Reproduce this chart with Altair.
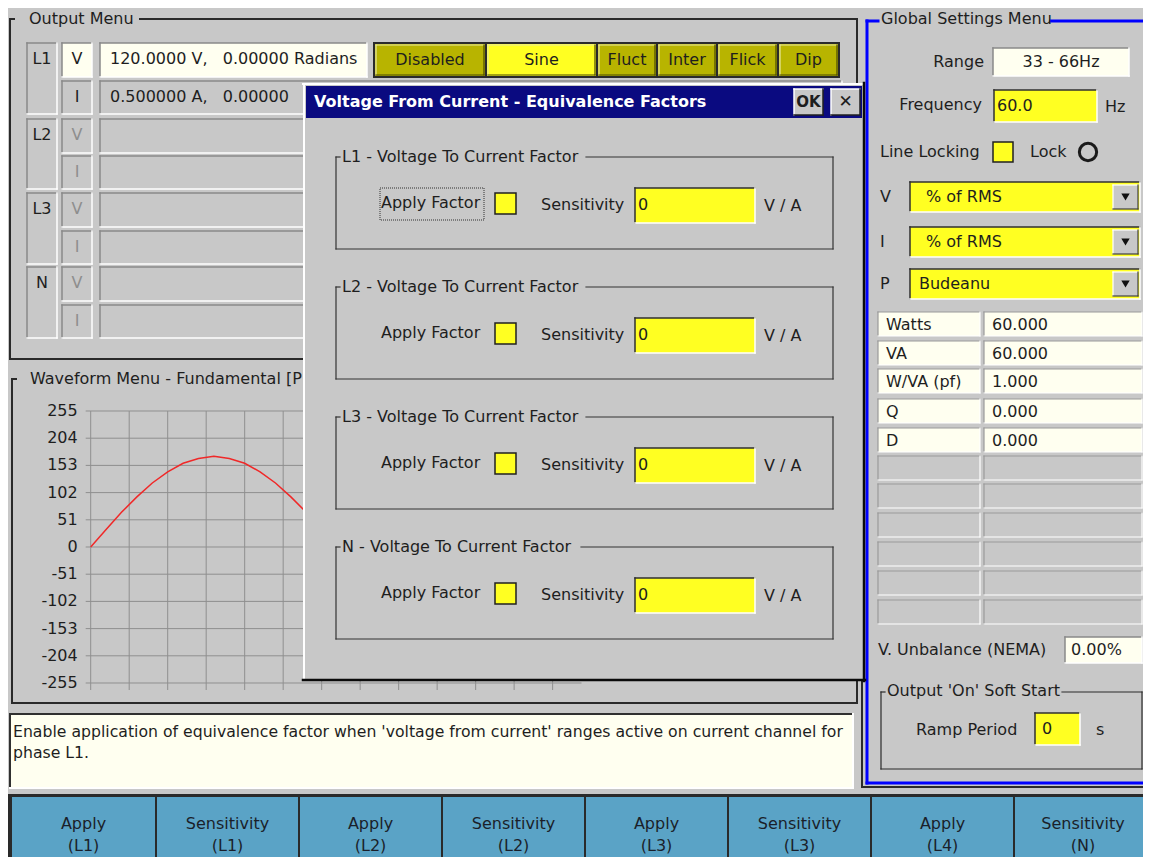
import altair as alt
import pandas as pd

# ---------------- data ----------------
# Fundamental waveform (phase L1 voltage): sample index / value
wave_sample = [0, 8, 16, 24, 32, 40, 48, 56, 64, 72, 80, 88, 96, 104, 112, 120, 128,
               136, 144, 152, 160, 168, 176, 184, 192, 200, 208, 216, 224, 232, 240, 248, 255]
wave_value = [0, 33, 65, 94, 120, 141, 157, 166, 170, 166, 157, 141, 120, 94, 65, 33, 0,
              -33, -65, -94, -120, -141, -157, -166, -170, -166, -157, -141, -120, -94, -65, -33, -4]
y_tick_values = [255, 204, 153, 102, 51, 0, -51, -102, -153, -204, -255]
y_tick_labels = ["255", "204", "153", "102", "51", "0", "-51", "-102", "-153", "-204", "-255"]
x_grid_samples = [0, 20, 40, 60, 80, 100, 120, 140, 160, 180, 200, 220, 240]

phases = ["L1", "L2", "L3", "N"]
NB = "\u00a0"
l1_v_text = f"120.0000 V,{NB}{NB}{NB}0.00000 Radians"
l1_i_text = f"0.500000 A,{NB}{NB}{NB}0.00000 Radians"
mode_buttons = ["Disabled", "Sine", "Fluct", "Inter", "Flick", "Dip"]
active_mode = "Sine"

range_text = "33 - 66Hz"
freq_text = "60.0"
dropdown_labels = ["V", "I", "P"]
dropdown_values = ["% of RMS", "% of RMS", "Budeanu"]
power_labels = ["Watts", "VA", "W/VA (pf)", "Q", "D"]
power_values = ["60.000", "60.000", "1.000", "0.000", "0.000"]
unbalance_text = "0.00%"
ramp_text = "0"

dialog_title = "Voltage From Current - Equivalence Factors"
sensitivity_values = ["0", "0", "0", "0"]

help_lines = ["Enable application of equivalence factor when 'voltage from current' ranges active on current channel for",
              "phase L1."]
softkey_top = ["Apply", "Sensitivity", "Apply", "Sensitivity", "Apply", "Sensitivity", "Apply", "Sensitivity"]
softkey_bottom = ["(L1)", "(L1)", "(L2)", "(L2)", "(L3)", "(L3)", "(L4)", "(N)"]

# ---------------- styles ----------------
FONT = "DejaVu Sans"
INK = "#1e1e1e"
GREY_TXT = "#8e8e8e"
BG = "#c8c8c8"
CREAM = "#fffff0"
YEL = "#ffff22"
OLIVE = "#b8b400"
NAVY = "#0a0a80"
BLUE = "#0000ff"
KEY = "#5aa3c6"
GRID = "#8f8f8f"
DARK = "#2a2a2a"

W, H = 1135, 849
SX = alt.Scale(domain=[8, 8 + W], nice=False, zero=False)
SY = alt.Scale(domain=[8, 8 + H], nice=False, zero=False, reverse=True)
WX = alt.Scale(domain=[0, 255], range=[82.7, 573.5], nice=False, zero=False)
WY = alt.Scale(domain=[-255, 255], range=[675, 403], nice=False, zero=False)

rects, lines, texts = [], [], []
d_rects, d_lines, d_texts = [], [], []
focus = []


def R(lst, x1, y1, x2, y2, fill, stroke="transparent", sw=0):
    lst.append(dict(x1=x1, y1=y1, x2=x2, y2=y2, fill=fill, stroke=stroke, sw=sw))


def L(lst, x1, y1, x2, y2, color, w=1):
    lst.append(dict(x1=x1, y1=y1, x2=x2, y2=y2, c=color, w=w))


def T(lst, x, y, t, align="left", color=INK, size=16, weight="normal", limit=0):
    lst.append(dict(x=x, y=y, t=t, align=align, c=color, s=size, wt=weight, lim=limit))


def bevel(ll, x1, y1, x2, y2, sunken=True, dark="#808080", light="#ffffff", w=1.5):
    tl, br = (dark, light) if sunken else (light, dark)
    L(ll, x1, y1, x2, y1, tl, w)
    L(ll, x1, y1, x1, y2, tl, w)
    L(ll, x1, y2, x2, y2, br, w)
    L(ll, x2, y1, x2, y2, br, w)


def field(rl, ll, x1, y1, x2, y2, fill, sunken=True, dark="#8a8a8a", w=1.5):
    R(rl, x1, y1, x2, y2, fill)
    bevel(ll, x1, y1, x2, y2, sunken, dark, "#ffffff", w)


def groupbox(ll, x1, y1, x2, y2, gap_end, color, w=1, right=True):
    L(ll, x1, y1, x1 + 4, y1, color, w)
    L(ll, gap_end, y1, x2, y1, color, w)
    L(ll, x1, y1, x1, y2, color, w)
    L(ll, x1, y2, x2, y2, color, w)
    if right:
        L(ll, x2, y1, x2, y2, color, w)


# ---------------- Output Menu ----------------
groupbox(lines, 10, 19, 857, 359, 140, DARK, 2)
T(texts, 29, 19, "Output Menu")
v_tops = [43, 119, 193, 267]
i_tops = [81, 156, 231, 305]
for k, p in enumerate(phases):
    vt, it = v_tops[k], i_tops[k]
    field(rects, lines, 27, vt, 57, it + 33, BG)
    T(texts, 42, vt + 16, p, "center")
    active = k == 0
    field(rects, lines, 62, vt, 92, vt + 34, CREAM if active else BG)
    field(rects, lines, 62, it, 92, it + 33, BG)
    T(texts, 77, vt + 16, "V", "center", INK if active else GREY_TXT)
    T(texts, 77, it + 16, "I", "center", INK if active else GREY_TXT)
    if active:
        field(rects, lines, 100, vt, 367, vt + 34, CREAM)
        field(rects, lines, 100, it, 842, it + 33, BG)
        T(texts, 110, vt + 16, l1_v_text)
        T(texts, 110, it + 16, l1_i_text, limit=190)
    else:
        field(rects, lines, 100, vt, 842, vt + 34, BG)
        field(rects, lines, 100, it, 842, it + 33, BG)

# mode buttons bar
R(rects, 373, 42, 840, 78, DARK)
btn_x = [(375, 485), (487, 596), (598, 656), (658, 716), (718, 777), (779, 838)]
for (bx1, bx2), lab in zip(btn_x, mode_buttons):
    R(rects, bx1, 44, bx2, 76, YEL if lab == active_mode else OLIVE)
    bevel(lines, bx1 + 1, 45, bx2 - 1, 75, False, "#4a4a00", "#e8e8a0", 1.2)
    T(texts, (bx1 + bx2) / 2, 60, lab, "center")

# ---------------- Waveform Menu frame ----------------
groupbox(lines, 12, 379, 857, 703, 470, DARK, 2)
T(texts, 30, 379, "Waveform Menu - Fundamental [Phase L1]", limit=272)

# ---------------- help box ----------------
field(rects, lines, 10, 714, 853, 788, CREAM, True, "#303030", 2)
T(texts, 13, 732, help_lines[0], size=15.7)
T(texts, 13, 753, help_lines[1], size=15.7)

# ---------------- soft keys ----------------
R(rects, 8, 794, 1151, 865, DARK)
key_x = [(12, 155), (157, 298), (300, 441), (443, 584), (586, 727), (729, 870), (872, 1013), (1015, 1151)]
for (kx1, kx2), t1, t2 in zip(key_x, softkey_top, softkey_bottom):
    R(rects, kx1, 797, kx2, 865, KEY)
    T(texts, (kx1 + kx2) / 2, 824, t1, "center", "#1a1f2a")
    T(texts, (kx1 + kx2) / 2, 846, t2, "center", "#1a1f2a")

# ---------------- Global Settings Menu ----------------
L(lines, 862, 681, 862, 787, DARK, 2)
L(lines, 862, 787, 1151, 787, DARK, 2)
L(lines, 867, 21, 878, 21, BLUE, 3)
L(lines, 1051, 21, 1151, 21, BLUE, 3)
L(lines, 867, 21, 867, 783, BLUE, 3)
L(lines, 867, 783, 1151, 783, BLUE, 3)
T(texts, 881, 19, "Global Settings Menu")

T(texts, 984, 62, "Range", "right")
field(rects, lines, 993, 48, 1129, 76, CREAM)
T(texts, 1061, 62, range_text, "center")
T(texts, 982, 105, "Frequency", "right")
field(rects, lines, 994, 90, 1097, 122, YEL, True, "#303030")
T(texts, 997, 106, freq_text)
T(texts, 1105, 107, "Hz")
T(texts, 880, 152, "Line Locking")
R(rects, 993, 142, 1013, 162, YEL, "#202020", 1.5)
T(texts, 1030, 152, "Lock")

dd_tops = [182, 227, 269]
for lab, val, tp in zip(dropdown_labels, dropdown_values, dd_tops):
    T(texts, 880, tp + 15, lab)
    field(rects, lines, 910, tp, 1140, tp + 30, YEL, True, "#303030")
    R(rects, 1113, tp + 3, 1138, tp + 27, BG)
    bevel(lines, 1113, tp + 3, 1138, tp + 27, False, "#404040", "#ffffff", 1.2)
    T(texts, 926 if val != "Budeanu" else 919, tp + 15, val)

row_tops = [312, 341, 369, 399, 428, 456, 484, 513, 542, 571, 600]
for j, rt in enumerate(row_tops):
    fill = CREAM if j < len(power_labels) else BG
    field(rects, lines, 878, rt, 980, rt + 24, fill, True, "#9a9a9a", 1.2)
    field(rects, lines, 984, rt, 1142, rt + 24, fill, True, "#9a9a9a", 1.2)
    if j < len(power_labels):
        T(texts, 886, rt + 13, power_labels[j])
        T(texts, 992, rt + 13, power_values[j])

T(texts, 878, 650, "V. Unbalance (NEMA)")
field(rects, lines, 1065, 637, 1142, 663, CREAM)
T(texts, 1071, 650, unbalance_text)

groupbox(lines, 881, 692, 1142, 769, 1062, DARK, 1.2)
T(texts, 887, 691, "Output 'On' Soft Start")
T(texts, 916, 730, "Ramp Period")
field(rects, lines, 1035, 713, 1080, 745, YEL, True, "#303030")
T(texts, 1042, 729, ramp_text)
T(texts, 1096, 730, "s")

# ---------------- Dialog ----------------
R(d_rects, 303, 83, 865, 681, BG)
L(d_lines, 303, 84, 864, 84, "#ffffff", 2)
L(d_lines, 304, 84, 304, 680, "#ffffff", 2)
L(d_lines, 303, 680, 865, 680, "#0a0a0a", 2.5)
L(d_lines, 864, 83, 864, 681, "#0a0a0a", 2.5)
R(d_rects, 306, 86, 862, 118, NAVY)
T(d_texts, 314, 102, dialog_title, color="#ffffff", size=16, weight="bold")
R(d_rects, 794, 89, 823, 115, BG)
bevel(d_lines, 794, 89, 823, 115, False, "#202020", "#ffffff", 1.5)
T(d_texts, 808.5, 102, "OK", "center", size=15, weight="bold")
R(d_rects, 831, 89, 860, 115, BG)
bevel(d_lines, 831, 89, 860, 115, False, "#202020", "#ffffff", 1.5)
T(d_texts, 845.5, 102, "\u2715", "center", size=17)

gap_ends = [586, 586, 586, 581]
for k, p in enumerate(phases):
    y0 = 157 + 130 * k
    groupbox(d_lines, 336, y0, 833, y0 + 92, gap_ends[k], "#333333", 1.2)
    T(d_texts, 342, y0, f"{p} - Voltage To Current Factor")
    T(d_texts, 381, y0 + 46, "Apply Factor")
    if k == 0:
        focus.append(dict(x1=380, y1=y0 + 31, x2=484, y2=y0 + 63))
    R(d_rects, 495, y0 + 36, 516, y0 + 57, YEL, "#202020", 1.5)
    T(d_texts, 541, y0 + 48, "Sensitivity")
    field(d_rects, d_lines, 635, y0 + 31, 755, y0 + 66, YEL, True, "#303030")
    T(d_texts, 638, y0 + 48, sensitivity_values[k])
    T(d_texts, 764, y0 + 49, "V / A")


# ---------------- layer builders ----------------
def xq(f, sc=SX):
    return alt.X(f, type="quantitative", scale=sc, axis=None)


def yq(f, sc=SY):
    return alt.Y(f, type="quantitative", scale=sc, axis=None)


def rect_layer(rows):
    return alt.Chart(pd.DataFrame(rows)).mark_rect().encode(
        x=xq("x1"), x2="x2:Q", y=yq("y1"), y2="y2:Q",
        fill=alt.Fill("fill:N", scale=None),
        stroke=alt.Stroke("stroke:N", scale=None),
        strokeWidth=alt.StrokeWidth("sw:Q", scale=None))


def rule_layer(rows):
    return alt.Chart(pd.DataFrame(rows)).mark_rule(strokeCap="square").encode(
        x=xq("x1"), x2="x2:Q", y=yq("y1"), y2="y2:Q",
        color=alt.Color("c:N", scale=None),
        strokeWidth=alt.StrokeWidth("w:Q", scale=None))


def text_layers(rows):
    df = pd.DataFrame(rows)
    out = []
    for (al, wt, lim), g in df.groupby(["align", "wt", "lim"]):
        kw = dict(align=al, baseline="middle", font=FONT, fontWeight=wt)
        if lim > 0:
            kw.update(limit=float(lim), ellipsis="\u200b")
        out.append(alt.Chart(g).mark_text(**kw).encode(
            x=xq("x"), y=yq("y"), text="t:N",
            color=alt.Color("c:N", scale=None),
            size=alt.Size("s:Q", scale=None)))
    return out


lock_layer = alt.Chart(pd.DataFrame({"x": [1088], "y": [152]})).mark_point(
    shape="circle", filled=False, size=300, strokeWidth=3, color="#1a1a1a", opacity=1).encode(x=xq("x"), y=yq("y"))
tri_layer = alt.Chart(pd.DataFrame({"x": [1125.5] * 3, "y": [t + 15 for t in dd_tops]})).mark_point(
    shape="triangle-down", filled=True, size=70, color="#101010", opacity=1).encode(x=xq("x"), y=yq("y"))
focus_layer = alt.Chart(pd.DataFrame(focus)).mark_rect(
    filled=False, stroke="#303030", strokeWidth=1, strokeDash=[1, 1]).encode(
    x=xq("x1"), x2="x2:Q", y=yq("y1"), y2="y2:Q")

# waveform (own scales)
vgrid_df = pd.DataFrame({"s": x_grid_samples, "top": 255, "bot": -255})
hgrid_df = pd.DataFrame({"v": y_tick_values, "lab": y_tick_labels, "s0": 0, "s1": 255})
wave_df = pd.DataFrame({"s": wave_sample, "v": wave_value})

vgrid = alt.Chart(vgrid_df).mark_rule(color=GRID, strokeWidth=1, y2Offset=7).encode(
    x=xq("s", WX), y=yq("top", WY), y2="bot:Q")
hgrid = alt.Chart(hgrid_df).mark_rule(color=GRID, strokeWidth=1, xOffset=-5).encode(
    x=xq("s0", WX), x2="s1:Q", y=yq("v", WY))
ylabels = alt.Chart(hgrid_df).mark_text(align="right", baseline="middle", dx=-13, font=FONT,
                                        fontSize=16, color=INK).encode(
    x=xq("s0", WX), y=yq("v", WY), text="lab:N")
wave = alt.Chart(wave_df).mark_line(color="#f02828", strokeWidth=1.5).encode(
    x=xq("s", WX), y=yq("v", WY))

layers = [rect_layer(rects), rule_layer(lines), *text_layers(texts), lock_layer, tri_layer,
          vgrid, hgrid, ylabels, wave,
          rect_layer(d_rects), rule_layer(d_lines), focus_layer, *text_layers(d_texts)]

chart = alt.layer(*layers).resolve_scale(x="independent", y="independent").properties(
    width=W, height=H, padding=0, background=BG,
    autosize=alt.AutoSizeParams(type="none")).configure_view(stroke=None)

chart.save("out.html", embed_options={"renderer": "svg", "actions": False})
